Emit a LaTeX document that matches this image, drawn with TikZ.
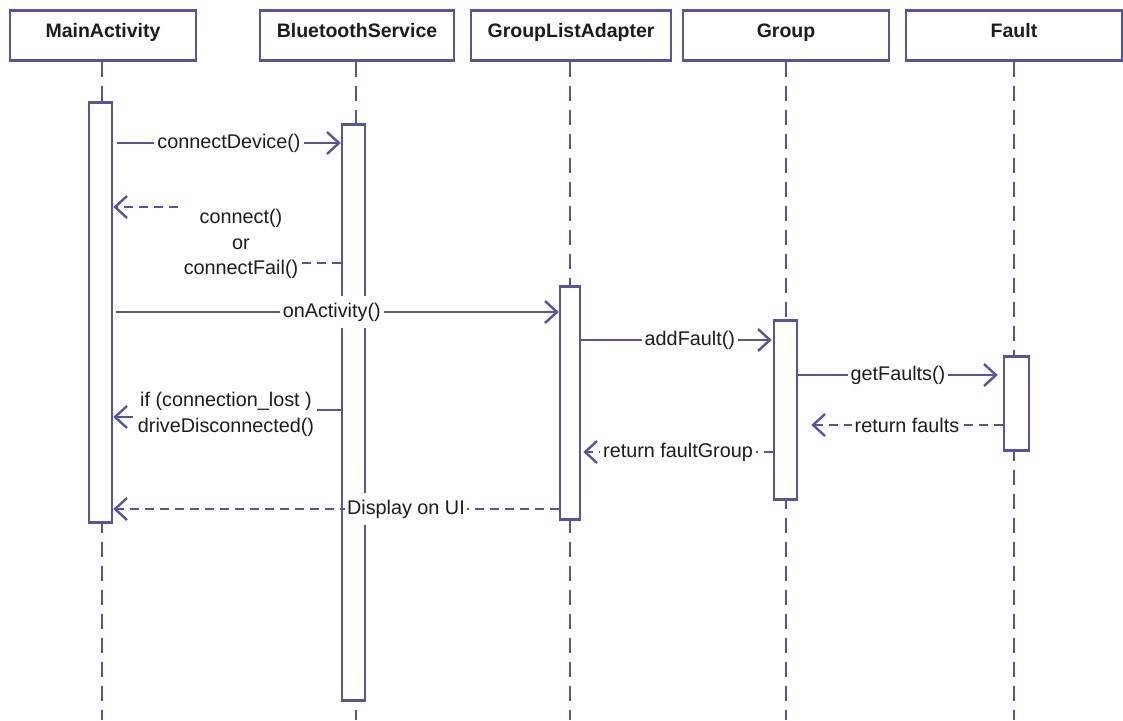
\documentclass[tikz,border=0pt]{standalone}
\usepackage{fontspec}
\setmainfont{Liberation Sans}
\usetikzlibrary{arrows.meta,calc}
\definecolor{uml}{RGB}{86,82,164}
\definecolor{ink}{RGB}{28,28,28}
\begin{document}
\begin{tikzpicture}[x=1pt,y=-1pt,
  every node/.style={text=ink},
  head/.style={draw=uml, line width=2.5pt, fill=white, rectangle, inner sep=0pt,
    minimum height=50pt, font=\fontsize{19.5}{23}\selectfont\bfseries,
    text height=13pt, text depth=10pt},
  life/.style={draw=uml, line width=2.5pt, dash pattern=on 15pt off 9pt},
  act/.style={draw=uml, fill=white, line width=2.5pt, rectangle, inner sep=0pt, anchor=north},
  msgline/.style={draw=uml, line width=2.4pt},
  replyline/.style={msgline, dash pattern=on 9pt off 6pt},
  call/.style={msgline, -{Straight Barb[length=12pt,width=22pt]}},
  reply/.style={call, dash pattern=on 9pt off 6pt},
  lbl/.style={fill=white, inner xsep=3pt, inner ysep=7pt,
    font=\fontsize{19.8}{25.5}\selectfont}
]
\useasboundingbox (0,0) rectangle (1123,720);

% lifeline heads
\node[head, minimum width=186pt] (ma)  at (103,35.5)  {MainActivity};
\node[head, minimum width=194pt] (bs)  at (357,35.5)  {BluetoothService};
\node[head, minimum width=200pt] (gla) at (571,35.5)  {GroupListAdapter};
\node[head, minimum width=206pt] (grp) at (786,35.5)  {Group};
\node[head, minimum width=216pt] (flt) at (1014,35.5) {Fault};

% lifelines
\coordinate (bottom) at (0,720);
\foreach \h/\dx in {ma/-1,bs/-1,gla/-1,grp/0,flt/0}
  \draw[life] ($(\h.south)+(\dx,0)$) -- ($(\h.south |- bottom)+(\dx,0)$);

% activation bars
\node[act, minimum width=23pt, minimum height=420pt] (maAct)  at (100.5,101) {};
\node[act, minimum width=23pt, minimum height=576pt] (bsAct)  at (353.5,123) {};
\node[act, minimum width=20pt, minimum height=233pt] (glaAct) at (570,285)   {};
\node[act, minimum width=23pt, minimum height=179pt] (grpAct) at (785.5,319) {};
\node[act, minimum width=25pt, minimum height=94pt]  (fltAct) at (1016.5,355) {};

% message rows
\coordinate (r1)  at (0,143);
\coordinate (r2a) at (0,207);
\coordinate (r2b) at (0,263);
\coordinate (r3)  at (0,312);
\coordinate (r4)  at (0,340);
\coordinate (r5)  at (0,375);
\coordinate (r6)  at (0,425);
\coordinate (r7)  at (0,452);
\coordinate (r8a) at (0,410);
\coordinate (r8b) at (0,417);
\coordinate (r9)  at (0,509);

% messages
\draw[call] ($(maAct.east |- r1)+(4,0)$) -- node[lbl]{connectDevice()} (bsAct.west |- r1);

\node[lbl, align=center] (conLab) at (241,244) {connect()\\or\\connectFail()};
\draw[replyline] (bsAct.west |- r2b) -- (conLab.east |- r2b);
\draw[reply] ($(conLab.west |- r2a)+(-3,0)$) -- (maAct.east |- r2a);

\draw[call] ($(maAct.east |- r3)+(3,0)$) -- node[lbl,pos=0.487]{onActivity()} (glaAct.west |- r3);

\draw[call] (glaAct.east |- r4) -- node[lbl,pos=0.57]{addFault()} ($(grpAct.west |- r4)+(-1,0)$);

\draw[call] (grpAct.east |- r5) -- node[lbl]{getFaults()} ($(fltAct.west |- r5)+(-5,0)$);

\draw[reply] (fltAct.west |- r6) -- node[lbl]{return faults} ($(grpAct.east |- r6)+(13,0)$);

\draw[reply] (grpAct.west |- r7) -- node[lbl]{return faultGroup} ($(glaAct.east |- r7)+(2,0)$);

\node[lbl, align=center] (lostLab) at (226,414.5) {if (connection\_lost )\\driveDisconnected()};
\draw[msgline] (bsAct.west |- r8a) -- (lostLab.east |- r8a);
\draw[call] ($(lostLab.west |- r8b)+(-2,0)$) -- (maAct.east |- r8b);

\draw[reply] (glaAct.west |- r9) -- node[lbl,pos=0.343,inner xsep=2.5pt]{Display on UI} (maAct.east |- r9);
\end{tikzpicture}
\end{document}
